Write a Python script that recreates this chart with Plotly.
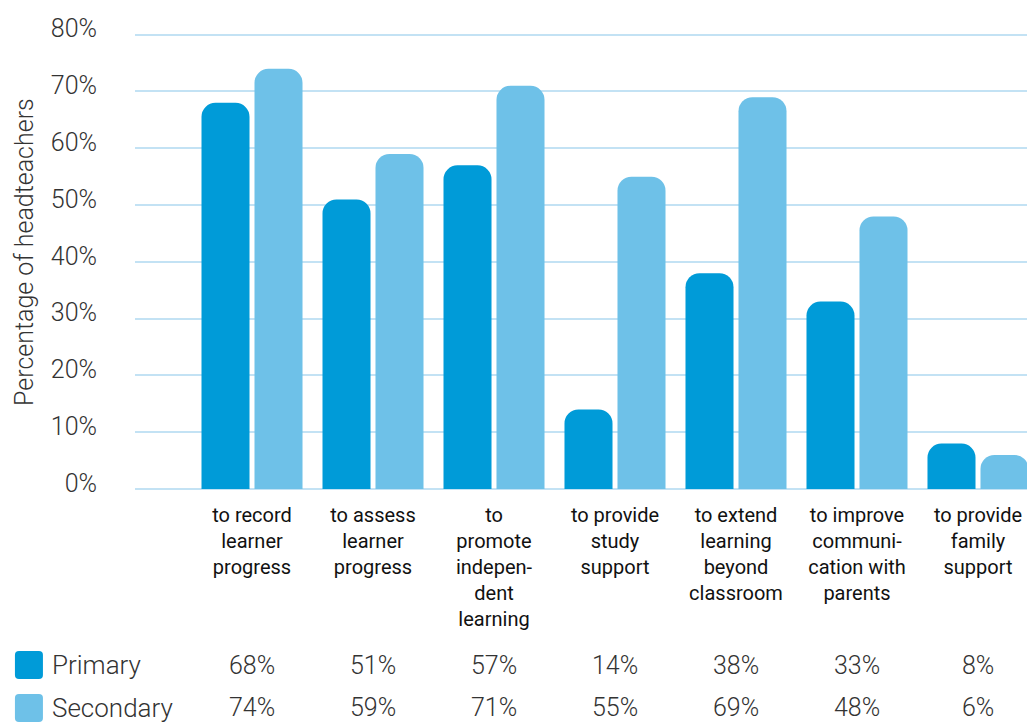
import plotly.graph_objects as go

# Data
categories = ["to record<br>learner<br>progress",
              "to assess<br>learner<br>progress",
              "to<br>promote<br>indepen-<br>dent<br>learning",
              "to provide<br>study<br>support",
              "to extend<br>learning<br>beyond<br>classroom",
              "to improve<br>communi-<br>cation with<br>parents",
              "to provide<br>family<br>support"]
primary = [68, 51, 57, 14, 38, 33, 8]
secondary = [74, 59, 71, 55, 69, 48, 6]
series_names = ["Primary", "Secondary"]
colors = ["#009BD8", "#6EC1E8"]
y_ticks = [0, 10, 20, 30, 40, 50, 60, 70, 80]

fig = go.Figure()
for name, vals, col in zip(series_names, [primary, secondary], colors):
    fig.add_trace(go.Bar(name=name, x=list(range(len(categories))), y=vals,
                         marker=dict(color=col, cornerradius=14, line_width=0),
                         showlegend=False))

# table of values under the chart
row_y = [-0.386, -0.48]
for vals, ry in zip([primary, secondary], row_y):
    for i, v in enumerate(vals):
        fig.add_annotation(x=i, y=ry, xref="x", yref="paper", text=f"{v}%",
                           showarrow=False, xanchor="center", yanchor="middle",
                           font=dict(family="Roboto", size=25, weight=300, color="#333333"))

# legend squares + names
for name, col, ry in zip(series_names, colors, row_y):
    fig.add_shape(type="path", xref="paper", yref="paper", xsizemode="pixel", ysizemode="pixel",
                  xanchor=-0.1346, yanchor=ry,
                  path="M 4,-14 L 24,-14 Q 28,-14 28,-10 L 28,10 Q 28,14 24,14 L 4,14 Q 0,14 0,10 L 0,-10 Q 0,-14 4,-14 Z",
                  fillcolor=col, line_width=0)
    fig.add_annotation(x=-0.1346, y=ry, xref="paper", yref="paper", text=name,
                       showarrow=False, xanchor="left", yanchor="middle", xshift=35,
                       font=dict(family="Roboto", size=26, weight=300, color="#333333"))

# y axis title
fig.add_annotation(x=-0.1233, y=0.52, xref="paper", yref="paper", text="Percentage of headteachers",
                   textangle=-90, showarrow=False, xanchor="center", yanchor="middle",
                   font=dict(family="Roboto", size=25, weight=300, color="#333333"))

fig.update_layout(
    width=1027, height=722,
    margin=dict(l=135, r=0, t=33, b=233),
    plot_bgcolor="white", paper_bgcolor="white",
    barmode="group", bargap=0.124, bargroupgap=0.094,
    font=dict(family="Roboto", color="#333333"),
    xaxis=dict(range=[-0.967, 6.405], tickvals=list(range(len(categories))),
               ticktext=categories, showgrid=False, zeroline=False, ticks="",
               automargin=False, ticklabelstandoff=12,
               tickfont=dict(family="Roboto", size=20, weight=400, color="#111111")),
    yaxis=dict(range=[0, 80.3], tickvals=y_ticks, ticktext=[f"{t}%" for t in y_ticks],
               showgrid=True, gridcolor="#C3E2F4", gridwidth=2,
               zeroline=True, zerolinecolor="#C3E2F4", zerolinewidth=2,
               ticks="", ticklabelstandoff=37, ticklabelshift=-6, automargin=False,
               tickfont=dict(family="Roboto", size=25, weight=300, color="#333333")),
)

# drop the default page margin so the figure fills the window exactly
fig.write_html("out.html", config={"displayModeBar": False},
               post_script="document.body.style.margin='0';document.body.style.overflow='hidden';")
